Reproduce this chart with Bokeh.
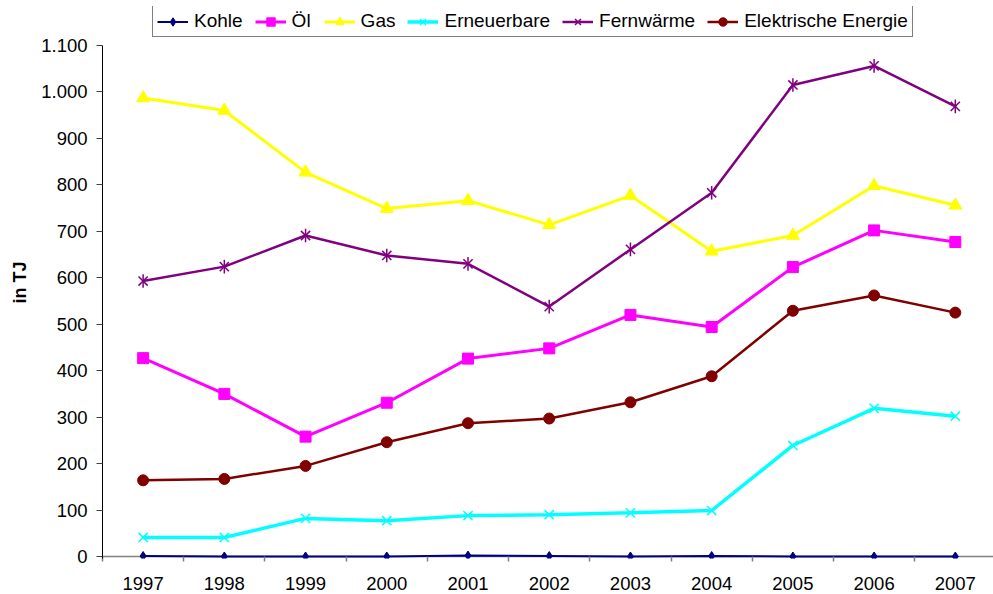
from bokeh.plotting import figure
from bokeh.models import Range1d, FixedTicker, Legend, LegendItem, Span
from bokeh.embed import file_html
from bokeh.resources import INLINE
import math

years = [1997, 1998, 1999, 2000, 2001, 2002, 2003, 2004, 2005, 2006, 2007]
kohle = [1, 0, 0, 0, 2, 1, 0, 1, 0, 0, 0]
oel = [427, 350, 258, 331, 426, 448, 520, 494, 623, 702, 677]
gas = [987, 960, 827, 749, 766, 714, 777, 657, 691, 798, 756]
erneuerbare = [41, 41, 82, 77, 88, 90, 94, 99, 239, 319, 302]
fernwaerme = [593, 624, 691, 648, 630, 538, 661, 783, 1015, 1056, 969]
elektrisch = [164, 167, 195, 246, 287, 297, 332, 388, 529, 562, 525]
series_names = ["Kohle", "Öl", "Gas", "Erneuerbare", "Fernwärme", "Elektrische Energie"]
y_ticks = [0, 100, 200, 300, 400, 500, 600, 700, 800, 900, 1000, 1100]
y_tick_labels = ["0", "100", "200", "300", "400", "500", "600", "700", "800", "900", "1.000", "1.100"]
x_tick_labels = ["1997", "1998", "1999", "2000", "2001", "2002", "2003", "2004", "2005", "2006", "2007"]
y_label = "in TJ"

FONT = "Liberation Sans"
Y_MIN, Y_MAX = 0, 1100

p = figure(width=993, height=594, output_backend="svg", toolbar_location=None,
           x_range=Range1d(years[0] - 0.5, years[-1] + 0.47),
           y_range=Range1d(Y_MIN - 4.3, Y_MAX + 83.95),
           min_border_left=102, min_border_top=6, min_border_bottom=36, min_border_right=0)
p.outline_line_color = None
p.xgrid.visible = False
p.ygrid.visible = False
p.background_fill_color = "white"

# baseline at zero
base = Span(location=Y_MIN, dimension="width", line_color="#808080", line_width=1.5, level="underlay")
p.add_layout(base)

# x axis
p.xaxis.ticker = FixedTicker(ticks=years, minor_ticks=[y + 0.5 for y in years[:-1]] + [years[0] - 0.5])
p.xaxis.major_label_overrides = {y: l for y, l in zip(years, x_tick_labels)}
p.xaxis.major_tick_out = 0
p.xaxis.major_tick_in = 0
p.xaxis.minor_tick_out = 3
p.xaxis.minor_tick_in = 2
p.xaxis.minor_tick_line_color = "#808080"
p.xaxis.minor_tick_line_width = 1.5
p.xaxis.axis_line_color = None
p.xaxis.major_label_standoff = 15
p.xaxis.major_label_text_font = FONT
p.xaxis.major_label_text_font_size = "18.5px"
p.xaxis.major_label_text_color = "black"

# y axis
p.yaxis.bounds = (Y_MIN - 4.3, Y_MAX)
p.yaxis.ticker = FixedTicker(ticks=y_ticks, minor_ticks=[])
p.yaxis.major_label_overrides = {t: l for t, l in zip(y_ticks, y_tick_labels)}
p.yaxis.major_tick_out = 6
p.yaxis.major_tick_in = 0
p.yaxis.major_tick_line_color = "#404040"
p.yaxis.axis_line_color = "black"
p.yaxis.major_label_standoff = 9
p.yaxis.major_label_text_font = FONT
p.yaxis.major_label_text_font_size = "18.5px"
p.yaxis.major_label_text_color = "black"
p.yaxis.axis_label = y_label
p.yaxis.axis_label_text_font = FONT
p.yaxis.axis_label_text_font_size = "18px"
p.yaxis.axis_label_text_font_style = "bold"
p.yaxis.axis_label_text_color = "black"
p.yaxis.axis_label_standoff = 8

styles = [
    ("#000080", ["diamond"], 9, 2, 1),
    ("#FF00FF", ["square"], 11, 3, 1),
    ("#FFFF00", ["triangle"], 13, 3, 1),
    ("#00FFFF", ["x"], 13, 3.5, 1.5),
    ("#800080", ["x", "vdash"], 13, 2.5, 1.5),
    ("#800000", ["circle"], 11, 2.5, 1),
]
data = [kohle, oel, gas, erneuerbare, fernwaerme, elektrisch]

items = []
for name, vals, (col, mks, sz, lw, mlw) in zip(series_names, data, styles):
    rs = [p.line(years, vals, line_color=col, line_width=lw)]
    for mk in mks:
        if mk == "vdash":
            rs.append(p.scatter(years, vals, marker="dash", angle=math.pi / 2, size=sz * 1.05,
                                line_color=col, line_width=mlw))
        else:
            rs.append(p.scatter(years, vals, marker=mk, size=sz, fill_color=col,
                                line_color=col, line_width=mlw))
    items.append(LegendItem(label=name, renderers=rs))

legend = Legend(items=items, orientation="horizontal", location=(50, 521),
                glyph_width=31, glyph_height=21, label_standoff=6, spacing=12, padding=4, margin=0,
                label_text_font=FONT, label_text_font_size="19px", label_text_color="black",
                border_line_color="black", border_line_width=1, background_fill_color="white",
                background_fill_alpha=1)
p.add_layout(legend)

open("out.html", "w").write(file_html(p, INLINE))
